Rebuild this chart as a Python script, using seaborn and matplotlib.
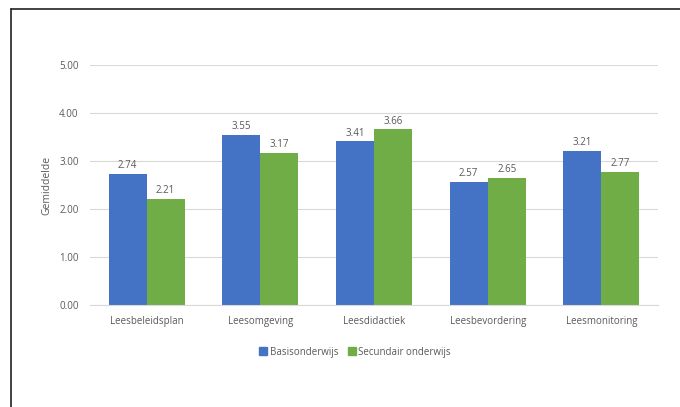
import matplotlib
matplotlib.use("Agg")
import matplotlib.pyplot as plt
import seaborn as sns
import pandas as pd
from matplotlib.lines import Line2D

categories = ["Leesbeleidsplan", "Leesomgeving", "Leesdidactiek", "Leesbevordering", "Leesmonitoring"]
basis = [2.74, 3.55, 3.41, 2.57, 3.21]
secundair = [2.21, 3.17, 3.66, 2.65, 2.77]
series = ["Basisonderwijs", "Secundair onderwijs"]
yticks = [0, 1, 2, 3, 4, 5]

df = pd.DataFrame({
    "categorie": categories * 2,
    "gemiddelde": basis + secundair,
    "groep": [series[0]] * len(categories) + [series[1]] * len(categories),
})

sns.set_style("white")
plt.rcParams["font.family"] = ["Open Sans", "DejaVu Sans"]
text_grey = "#595959"
colours = ["#4472C4", "#70AD47"]

fig = plt.figure(figsize=(6.8, 4.07), dpi=100)
ax = fig.add_axes([0.132, 0.2506, 0.836, 0.5896])

sns.barplot(data=df, x="categorie", y="gemiddelde", hue="groep",
            palette=colours, width=0.67, ax=ax, linewidth=0,
            errorbar=None, saturation=1, legend=False)

for cont in ax.containers:
    ax.bar_label(cont, fmt="%.2f", padding=2, fontsize=7, color=text_grey)

ax.set_ylim(0, 5)
ax.set_yticks(yticks)
ax.set_yticklabels([f"{v:.2f}" for v in yticks])
ax.yaxis.grid(True, color="#D9D9D9", linewidth=0.8)
ax.set_axisbelow(True)
for s in ["top", "right", "left"]:
    ax.spines[s].set_visible(False)
ax.spines["bottom"].set_color("#D9D9D9")
ax.tick_params(axis="both", length=0, labelsize=7, colors=text_grey, pad=8)
ax.set_xlabel("")
ax.set_ylabel("Gemiddelde", fontsize=7.5, color=text_grey, labelpad=5)

handles = [plt.Rectangle((0, 0), 1, 1, color=c) for c in colours]
fig.legend(handles, series, loc="center", bbox_to_anchor=(0.522, 0.135), ncol=2,
           frameon=False, fontsize=7, labelcolor=text_grey,
           handlelength=0.8, handleheight=0.8, handletextpad=0.3, columnspacing=1.0)

# outer frame (top and left edges visible)
fig.add_artist(Line2D([11 / 680, 1], [1 - 9 / 407, 1 - 9 / 407], color="#222222", linewidth=1.2))
fig.add_artist(Line2D([11 / 680, 11 / 680], [0, 1 - 9 / 407], color="#222222", linewidth=1.2))

fig.savefig("out.png", dpi=100)
